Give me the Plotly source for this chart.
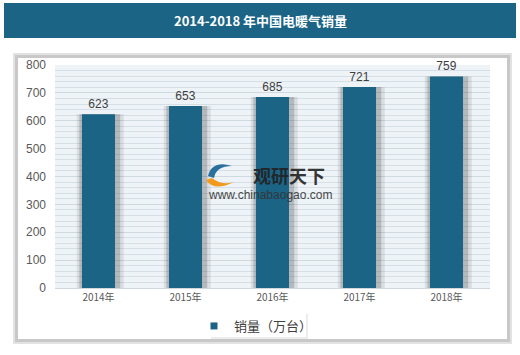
import plotly.graph_objects as go

years = ["2014年", "2015年", "2016年", "2017年", "2018年"]
sales = [623, 653, 685, 721, 759]
series_name = "销量（万台）"
title_text = "2014-2018 年中国电暖气销量"
y_ticks = [0, 100, 200, 300, 400, 500, 600, 700, 800]

W, H = 520, 355
L, R, T, B = 55, 30, 65, 67
pw, ph = W - L - R, H - T - B

def px(x):
    return (x - L) / pw

def py(y):
    return (H - B - y) / ph

BAR = "#1b6486"

fig = go.Figure()
# soft shadows behind bars
for w, off, a in [(0.54, -0.25, 0.10), (0.47, -0.22, 0.20)]:
    fig.add_trace(go.Bar(x=years, y=sales, width=w, offset=off,
                         marker=dict(color=f"rgba(40,40,40,{a})", line=dict(width=0)),
                         showlegend=False, hoverinfo="skip"))
fig.add_trace(go.Bar(x=years, y=sales, name=series_name, width=0.38, offset=-0.19,
                     marker=dict(color=BAR, line=dict(width=0)),
                     text=[str(v) for v in sales], textposition="outside",
                     textfont=dict(size=12, color="#404040", family="Arial"),
                     cliponaxis=False, showlegend=False))
# legend entry with a small square symbol
fig.add_trace(go.Scatter(x=[None], y=[None], mode="markers", name=series_name,
                         marker=dict(symbol="square", size=7, color=BAR)))

shapes = [
    # title bar
    dict(type="rect", xref="paper", yref="paper", x0=px(4), x1=px(516), y0=py(3), y1=py(38),
         fillcolor=BAR, line=dict(width=0), layer="below"),
    # panel shadow
    dict(type="rect", xref="paper", yref="paper", x0=px(13), x1=px(512), y0=py(53), y1=py(344),
         fillcolor="#e2e2e2", line=dict(width=0), layer="below"),
    dict(type="rect", xref="paper", yref="paper", x0=px(15), x1=px(510), y0=py(55), y1=py(342),
         fillcolor="#c8c8c8", line=dict(width=0), layer="below"),
    dict(type="rect", xref="paper", yref="paper", x0=px(18), x1=px(507), y0=py(58), y1=py(339),
         fillcolor="white", line=dict(width=0), layer="below"),
    # plot background
    dict(type="rect", xref="paper", yref="paper", x0=0, x1=1, y0=0, y1=1,
         fillcolor="#eef3f7", line=dict(width=0), layer="below"),
    # legend shadow box
    dict(type="rect", xref="paper", yref="paper", x0=px(211), x1=px(308), y0=py(314), y1=py(339),
         fillcolor="#ececec", line=dict(width=0), layer="below"),
    dict(type="rect", xref="paper", yref="paper", x0=px(211), x1=px(306), y0=py(314), y1=py(337),
         fillcolor="white", line=dict(width=0), layer="below"),
    # watermark logo swirl
    dict(type="path", xref="paper", yref="paper",
         path=f"M {px(208)},{py(176)} Q {px(212)},{py(160)} {px(232)},{py(166)} "
              f"Q {px(216)},{py(166)} {px(214)},{py(178)} Z",
         fillcolor="#2a6f9e", line=dict(width=0), layer="above"),
    dict(type="path", xref="paper", yref="paper",
         path=f"M {px(206)},{py(180)} Q {px(214)},{py(192)} {px(234)},{py(182)} "
              f"Q {px(222)},{py(186)} {px(212)},{py(178)} Z",
         fillcolor="#f39a1e", line=dict(width=0), layer="above"),
]

annotations = [
    dict(text=f"<b>{title_text}</b>", xref="paper", yref="paper", x=px(260), y=py(20),
         showarrow=False, font=dict(size=13, color="white", family="Noto Sans CJK SC"),
         xanchor="center", yanchor="middle"),
    dict(text="<b>观研天下</b>", xref="paper", yref="paper", x=px(289), y=py(175),
         showarrow=False, font=dict(size=18, color="#222222", family="Noto Sans CJK SC"),
         xanchor="center", yanchor="middle", opacity=0.9),
    dict(text="www.chinabaogao.com", xref="paper", yref="paper", x=px(270), y=py(195),
         showarrow=False, font=dict(size=12, color="#333333", family="Arial"),
         xanchor="center", yanchor="middle", opacity=0.9),
]

fig.update_layout(
    width=W, height=H,
    margin=dict(l=L, r=R, t=T, b=B),
    paper_bgcolor="white",
    plot_bgcolor="rgba(0,0,0,0)",
    barmode="overlay",
    shapes=shapes,
    annotations=annotations,
    showlegend=True,
    legend=dict(orientation="h", x=px(256), xanchor="center", y=py(326), yanchor="middle",
                font=dict(size=13, color="#404040", family="Noto Sans CJK SC"),
                bgcolor="rgba(0,0,0,0)", itemwidth=30),
    xaxis=dict(showgrid=False, showline=True, linecolor="#d0d8de", ticks="",
               tickfont=dict(size=10, color="#595959", family="Noto Sans CJK SC")),
    yaxis=dict(range=[0, 800], tickvals=y_ticks, showgrid=True, gridcolor="#cfd9e0", gridwidth=1,
               zeroline=False, ticks="", ticklen=0,
               minor=dict(dtick=20, showgrid=True, gridcolor="#d6dfe6", gridwidth=1),
               tickfont=dict(size=12, color="#595959", family="Arial"),
               ticklabelstandoff=8),
    font=dict(family="Noto Sans CJK SC"),
)

fig.write_html("out.html", post_script="document.body.style.margin='0';",
               config={"displayModeBar": False})
